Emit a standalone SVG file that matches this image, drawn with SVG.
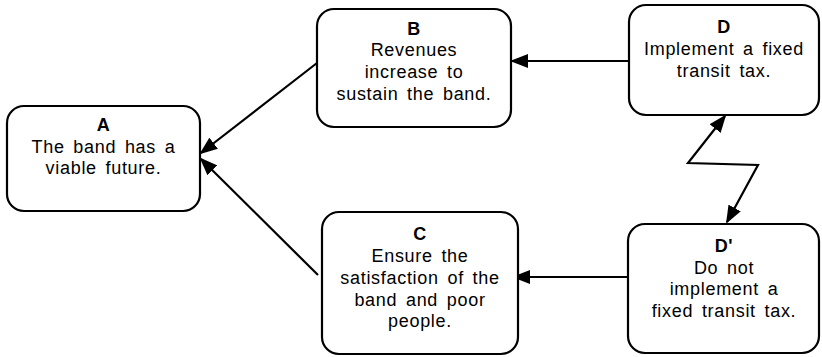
<svg xmlns="http://www.w3.org/2000/svg" width="822" height="357" viewBox="0 0 822 357">
<defs>
<style>
.box{fill:#fff;stroke:#000;stroke-width:2.2}
text{font-family:"Liberation Sans",Arial,sans-serif;font-size:18px;fill:#000;text-anchor:middle;letter-spacing:0.7px;word-spacing:3px}
.t{font-weight:bold}
.c{fill:none;stroke:#000;stroke-width:2.2}
</style>
<marker id="ah" markerUnits="userSpaceOnUse" markerWidth="18" markerHeight="14" refX="16" refY="7" orient="auto-start-reverse" viewBox="0 0 18 14">
<path d="M0,0 L18,7 L0,14 z" fill="#000"/>
</marker>
</defs>
<rect width="822" height="357" fill="#fff"/>
<g id="connectors">
<line class="c" x1="317" y1="63" x2="201" y2="153" marker-end="url(#ah)"/>
<line class="c" x1="318" y1="275" x2="201" y2="159" marker-end="url(#ah)"/>
<line class="c" x1="629" y1="61" x2="512" y2="61" marker-end="url(#ah)"/>
<line class="c" x1="628" y1="277" x2="514" y2="277" marker-end="url(#ah)"/>
<polyline class="c" points="725,116 688,163 758,165 727,222" marker-start="url(#ah)" marker-end="url(#ah)"/>
</g>
<g id="A">
<rect class="box" x="7" y="106" width="193" height="105" rx="17"/>
<text x="103.5" y="131" class="t">A</text>
<text x="103.5" y="153">The band has a</text>
<text x="103.5" y="174">viable future.</text>
</g>
<g id="B">
<rect class="box" x="317" y="9" width="194" height="118" rx="17"/>
<text x="414" y="35" class="t">B</text>
<text x="414" y="56">Revenues</text>
<text x="414" y="78">increase to</text>
<text x="414" y="100">sustain the band.</text>
</g>
<g id="C">
<rect class="box" x="322" y="212" width="196" height="142" rx="17"/>
<text x="420" y="240" class="t">C</text>
<text x="420" y="262">Ensure the</text>
<text x="420" y="284">satisfaction of the</text>
<text x="420" y="306">band and poor</text>
<text x="420" y="327">people.</text>
</g>
<g id="D">
<rect class="box" x="629" y="5" width="190" height="110" rx="17"/>
<text x="724" y="33" class="t">D</text>
<text x="724" y="55">Implement a fixed</text>
<text x="724" y="77">transit tax.</text>
</g>
<g id="Dp">
<rect class="box" x="628" y="224" width="191" height="129" rx="17"/>
<text x="724" y="252" class="t">D'</text>
<text x="724" y="274">Do not</text>
<text x="724" y="295">implement a</text>
<text x="724" y="317">fixed transit tax.</text>
</g>
</svg>
